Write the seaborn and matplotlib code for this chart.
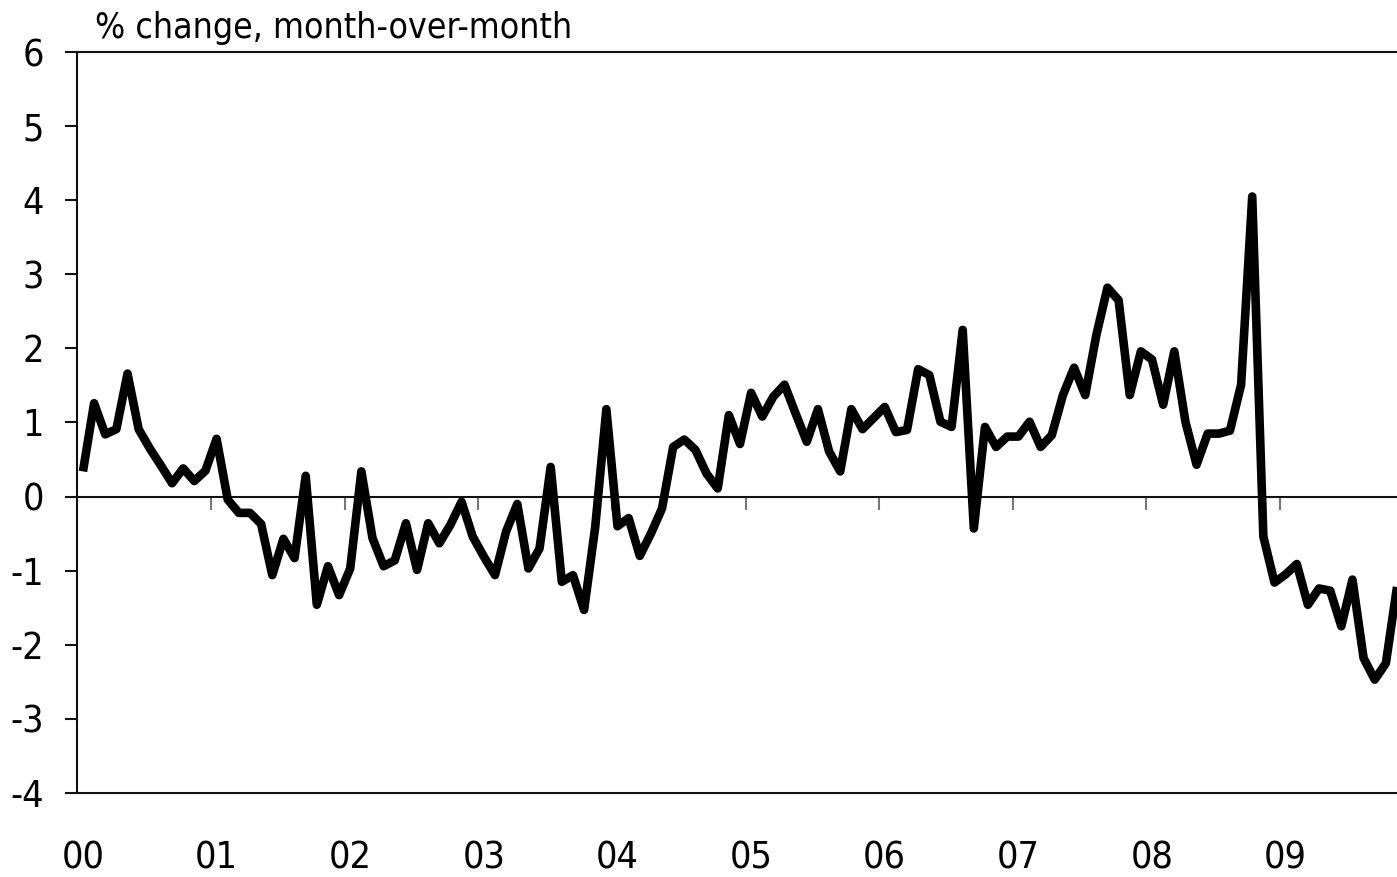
import numpy as np
import pandas as pd
import matplotlib
matplotlib.use('Agg')
import matplotlib.pyplot as plt
import seaborn as sns

# Monthly % change, Jan 2000 - Nov 2009
values_2000 = [0.34, 1.26, 0.84, 0.91, 1.66, 0.91, 0.65, 0.42, 0.18, 0.38, 0.21, 0.35]
values_2001 = [0.78, -0.04, -0.22, -0.22, -0.37, -1.06, -0.57, -0.83, 0.28, -1.46, -0.94, -1.33]
values_2002 = [-0.97, 0.34, -0.56, -0.94, -0.86, -0.36, -0.99, -0.36, -0.63, -0.38, -0.07, -0.54]
values_2003 = [-0.81, -1.06, -0.47, -0.10, -0.97, -0.70, 0.40, -1.15, -1.06, -1.53, -0.41, 1.18]
values_2004 = [-0.40, -0.29, -0.80, -0.50, -0.16, 0.67, 0.77, 0.63, 0.31, 0.11, 1.10, 0.71]
values_2005 = [1.40, 1.08, 1.35, 1.51, 1.12, 0.74, 1.18, 0.61, 0.34, 1.18, 0.91, 1.06]
values_2006 = [1.21, 0.87, 0.90, 1.72, 1.64, 1.01, 0.94, 2.25, -0.43, 0.94, 0.67, 0.81]
values_2007 = [0.81, 1.01, 0.67, 0.83, 1.37, 1.74, 1.37, 2.18, 2.82, 2.65, 1.37, 1.96]
values_2008 = [1.85, 1.24, 1.96, 1.01, 0.43, 0.85, 0.85, 0.89, 1.51, 4.05, -0.54, -1.16]
values_2009 = [-1.05, -0.91, -1.46, -1.24, -1.27, -1.75, -1.12, -2.18, -2.47, -2.25, -1.22]

year_labels = ['00', '01', '02', '03', '04', '05', '06', '07', '08', '09']
y_ticks = [-4, -3, -2, -1, 0, 1, 2, 3, 4, 5, 6]

values = (values_2000 + values_2001 + values_2002 + values_2003 + values_2004
          + values_2005 + values_2006 + values_2007 + values_2008 + values_2009)
df = pd.DataFrame({'month': np.arange(len(values)), 'pct': values})

sns.set_style('white')
plt.rcParams['font.family'] = ['DejaVu Sans']
plt.rcParams['font.stretch'] = 'condensed'
plt.rcParams['text.color'] = 'black'
plt.rcParams['xtick.color'] = 'black'
plt.rcParams['ytick.color'] = 'black'

fig = plt.figure(figsize=(13.97, 8.77), dpi=100)
ax = fig.add_axes([0.0554, 0.0958, 0.9446, 0.8449])

sns.lineplot(data=df, x='month', y='pct', color='black', linewidth=6.2,
             ax=ax, solid_joinstyle='round', solid_capstyle='butt')

ax.set_xlim(-0.5, 118.0)
ax.set_ylim(-4, 6)
ax.set_xlabel('')
ax.set_ylabel('')

# spines: left, top, bottom; right hidden
for side in ['left', 'top', 'bottom']:
    ax.spines[side].set_color('#111111')
    ax.spines[side].set_linewidth(1.5)
ax.spines['right'].set_visible(False)

# y ticks outward on the left
ax.set_yticks(y_ticks)
ax.set_yticklabels([str(t) for t in y_ticks])
ax.tick_params(axis='y', direction='out', length=9, width=1.5, color='#111111',
               labelsize=27, labelcolor='black', pad=15, left=True)

# year labels along the bottom, no tick marks
ax.set_xticks(np.arange(len(year_labels)) * 12)
ax.set_xticklabels(year_labels)
ax.tick_params(axis='x', length=0, labelsize=27, labelcolor='black', pad=34)

# zero line with year-boundary ticks
zero_axis = ax.secondary_xaxis(0.4)
zero_axis.spines['bottom'].set_color('#111111')
zero_axis.spines['bottom'].set_linewidth(1.5)
zero_axis.set_xticks(np.arange(1, len(year_labels)) * 12 - 0.5)
zero_axis.tick_params(axis='x', direction='out', length=9, width=1.5,
                      color='#777777', labelbottom=False)

fig.text(0.068, 0.957, '% change, month-over-month', fontsize=25.5,
         color='black', ha='left', va='baseline')

fig.savefig('out.png', dpi=100)
